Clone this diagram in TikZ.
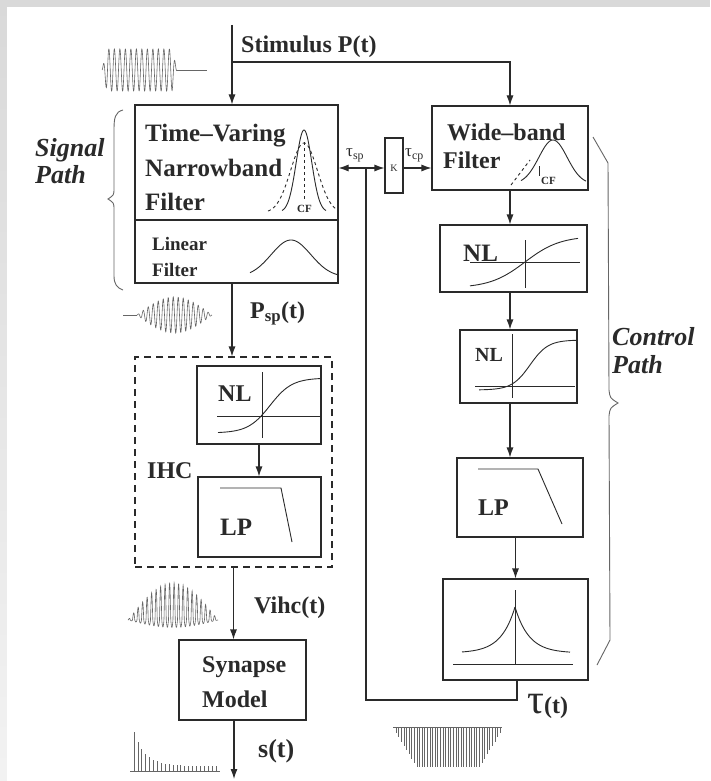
\documentclass[tikz,border=0pt]{standalone}
\usepackage{fontspec}
\setmainfont{Liberation Serif}
\usetikzlibrary{arrows.meta,calc}
\definecolor{ink}{HTML}{2A2A2A}
\definecolor{frame}{HTML}{D9D9D9}
\begin{document}
\begin{tikzpicture}[x=1pt,y=-1pt,
  box/.style={draw=ink, line width=1.1pt, inner sep=0pt},
  arr/.style={draw=ink, line width=1.1pt, -{Latex[length=10pt,width=7pt]}},
  ln/.style={draw=ink, line width=1.1pt},
  curv/.style={draw=ink, line width=0.9pt},
  wave/.style={draw=black!60, line width=0.6pt},
  brc/.style={draw=black!60, line width=0.9pt},
  lab/.style={font=\bfseries\fontsize{24}{28}\selectfont, inner sep=0pt, anchor=base west, text=ink},
  labs/.style={font=\bfseries\fontsize{19}{22}\selectfont, inner sep=0pt, anchor=base west, text=ink},
  labi/.style={font=\bfseries\itshape\fontsize{26}{30}\selectfont, inner sep=0pt, anchor=base west, text=ink},
  tiny/.style={font=\bfseries\fontsize{11}{12}\selectfont, inner sep=0pt, text=ink}]
\useasboundingbox (0,0) rectangle (710,781);
\fill[frame] (0,0) rectangle (710,7);
\shade[top color=frame, bottom color=black!5] (0,0) rectangle (7,781);
\fill[white] (7,7) rectangle (710,781);

% ---------- boxes ----------
\node[box, minimum width=203pt, minimum height=115pt] (sig) at (236.5,162.5) {};
\node[box, minimum width=203pt, minimum height=63pt] (lin) at (236.5,251.5) {};
\node[box, dashed, dash pattern=on 7pt off 5pt, minimum width=197pt, minimum height=210pt] (ihc) at (233.5,462) {};
\node[box, minimum width=124pt, minimum height=78pt] (nl3) at (259,405) {};
\node[box, minimum width=123pt, minimum height=80pt] (lp2) at (259.5,517) {};
\node[box, minimum width=127pt, minimum height=80pt] (syn) at (242.5,680) {};
\node[box, minimum width=156pt, minimum height=84pt] (wb) at (510,148) {};
\node[box, minimum width=18pt, minimum height=55pt] (K) at (394,165.5) {};
\node[box, minimum width=147pt, minimum height=67pt] (nl1) at (513.5,258.5) {};
\node[box, minimum width=117pt, minimum height=73pt] (nl2) at (518.5,366.5) {};
\node[box, minimum width=126pt, minimum height=79pt] (lp1) at (520,497.5) {};
\node[box, minimum width=145pt, minimum height=101pt] (fin) at (515.5,629.5) {};

% ---------- connectors ----------
\coordinate (top) at (232,25);
\coordinate (br) at (232,62);
\draw[arr] (top) -- (top |- sig.north);
\draw[arr] (br) -- (br -| wb.north) -- (wb.north);
\draw[arr] (lin.south -| top) -- (ihc.north -| top);
\draw[arr] (nl3.south) -- (nl3.south |- lp2.north);
\draw[arr] (ihc.south) -- (ihc.south |- syn.north);
\coordinate (bot) at (234,779);
\draw[arr] (syn.south -| bot) -- (bot);
\draw[arr] (wb.south) -- (wb.south |- nl1.north);
\draw[arr] (nl1.south -| wb.south) -- (nl2.north -| wb.south);
\draw[arr] (nl2.south -| wb.south) -- (lp1.north -| wb.south);
\draw[arr] (fin.north |- lp1.south) -- (fin.north);
\coordinate (fb) at (517,700);
\coordinate (jn) at (366,168);
\draw[ln] (fin.south -| fb) -- (fb) -- (fb -| jn) -- (jn);
\draw[arr] (jn) -- (jn -| sig.east);
\draw[arr] (jn) -- (jn -| K.west);
\draw[arr] (K.east |- jn) -- (jn -| wb.west);

% ---------- texts ----------
\node[lab] (tstim) at (241,53) {Stimulus P(t)};
\node[lab, font=\bfseries\fontsize{25}{28}\selectfont] (tv1) at (145,142) {Time–Varing};
\node[lab, font=\bfseries\fontsize{25}{28}\selectfont] (tv2) at (145,176) {Narrowband};
\node[lab, font=\bfseries\fontsize{25}{28}\selectfont] (tv3) at (145,210) {Filter};
\node[labs] (lf1) at (152,250) {Linear};
\node[labs] (lf2) at (152,276) {Filter};
\node[labi] (sp1) at (35,156) {Signal};
\node[labi] (sp2) at (35,183) {Path};
\node[lab] (wb1) at (447,140) {Wide–band};
\node[lab] (wb2) at (443,168) {Filter};
\node[labi] (cp1) at (612,345) {Control};
\node[labi] (cp2) at (612,373) {Path};
\node[lab, font=\bfseries\fontsize{25}{28}\selectfont] (nlt1) at (463,261) {NL};
\node[labs, font=\bfseries\fontsize{20}{22}\selectfont] (nlt2) at (475,361) {NL};
\node[lab] (nlt3) at (218,401) {NL};
\node[lab, font=\bfseries\fontsize{25}{28}\selectfont] (lpt2) at (220,535) {LP};
\node[lab] (ihct) at (147,478) {IHC};
\node[lab] (lpt1) at (478,515) {LP};
\node[lab] (psp) at (250,318) {P\textsubscript{sp}(t)};
\node[lab] (vihc) at (254,613) {Vihc(t)};
\node[lab] (syn1) at (202,672) {Synapse};
\node[lab] (syn2) at (202,707) {Model};
\node[lab, font=\bfseries\fontsize{26}{28}\selectfont] (st) at (258,757) {s(t)};
\node[inner sep=0pt, anchor=base west, font=\fontsize{17}{18}\selectfont, text=ink] (tsp) at (346,157) {τ\textsubscript{sp}};
\node[inner sep=0pt, anchor=base west, font=\fontsize{17}{18}\selectfont, text=ink] (tcp) at (405,157) {τ\textsubscript{cp}};
\node[inner sep=0pt, font=\fontsize{10}{11}\selectfont, text=ink] (kt) at (394,168) {K};
\node[inner sep=0pt, anchor=base west, text=ink] (tau) at (527,713) {\fontsize{42}{42}\selectfont τ\fontsize{24}{24}\selectfont\bfseries(t)};
\node[tiny, anchor=base west] (cf1) at (297,212) {CF};
\node[tiny, anchor=base west] (cf2) at (541,184) {CF};

% ---------- icons ----------
\draw[curv] plot[domain=282:326, samples=60] (\x,{212-82*exp(-((\x-304)/11)^2)});
\draw[curv, dashed] plot[domain=268:338, samples=60] (\x,{213-70*exp(-((\x-304)/19)^2)});
\draw[curv, dashed] (304,142) -- (304,200);
\draw[curv] plot[domain=250:337, samples=60] (\x,{277-37*exp(-((\x-291)/28)^2)});
\draw[curv, dashed] (511,185) -- (530,160);
\draw[curv] plot[domain=521:586, samples=60] (\x,{184-44*exp(-((\x-553)/20)^2)});
\draw[curv] (539,166) -- (539,176);
\draw[curv] (470,262) -- (580,262);
\draw[curv] (525,240) -- (525,288);
\draw[curv] plot[domain=470:578, samples=60] (\x,{262-26*tanh((\x-525)/35)});
\draw[curv] (475,386) -- (575,386);
\draw[curv] (512,334) -- (512,398);
\draw[curv] plot[domain=479:577, samples=60] (\x,{390-50/(1+exp(-(\x-530)/9))});
\draw[curv] (217,416) -- (320,416);
\draw[curv] (262,372) -- (262,438);
\draw[curv] plot[domain=218:320, samples=60] (\x,{433-55/(1+exp(-(\x-270)/11))});
\draw[curv] (220,488) -- (281,488) -- (292,542);
\draw[curv] (478,469) -- (538,469) -- (562,524);
\draw[curv] (515,590) -- (515,665);
\draw[curv] (453,664) -- (573,664);
\draw[curv] plot[domain=462:515, samples=50] (\x,{653-46*exp(-(515-\x)/14)});
\draw[curv] plot[domain=515:570, samples=50] (\x,{653-46*exp(-(\x-515)/14)});

% ---------- braces ----------
\draw[brc] (123,110) .. controls (115,112) and (114,118) .. (114,130) -- (114,188)
  .. controls (114,195) .. (108,199) .. controls (114,203) .. (114,210) -- (114,276)
  .. controls (114,284) and (117,288) .. (123,290);
\draw[brc] (593,137) -- (608,163) -- (609,390) .. controls (610,398) .. (618,403)
  .. controls (610,408) .. (609,416) -- (610,640) -- (597,665);

% ---------- waveforms ----------
\draw[wave] plot[domain=102:177, samples=400] (\x,{70-21*min(1,(\x-102)/5)*min(1,(177-\x)/5)*sin((\x-102)*65.45)});
\draw[wave] (177,70) -- (207,70);
\draw[wave] (123,315) -- (137,315);
\draw[wave] plot[domain=137:212, samples=400] (\x,{315-18*sin((\x-137)*2.4)*sin((\x-137)*72)});
\draw[wave] plot[domain=128:218, samples=450] (\x,{620-37*sin((\x-128)*2)*(0.6*sin((\x-128)*80)+0.4*abs(sin((\x-128)*80)))});
\draw[wave] (130,771) -- (220,771);
\foreach \i in {0,...,21} {
  \pgfmathsetmacro\xx{134+3.9*\i}
  \pgfmathsetmacro\hh{5+34*exp(-\i/3)}
  \draw[wave, line width=0.8pt] (\xx,771) -- (\xx,{771-\hh});
}
\draw[wave] (393,727) -- (502,727);
\foreach \i in {0,...,40} {
  \pgfmathsetmacro\xx{396+2.6*\i}
  \pgfmathsetmacro\ll{6+34*min(1,min(\i,40-\i)/8)}
  \draw[wave] (\xx,727) -- (\xx,{727+\ll});
}
\end{tikzpicture}
\end{document}
